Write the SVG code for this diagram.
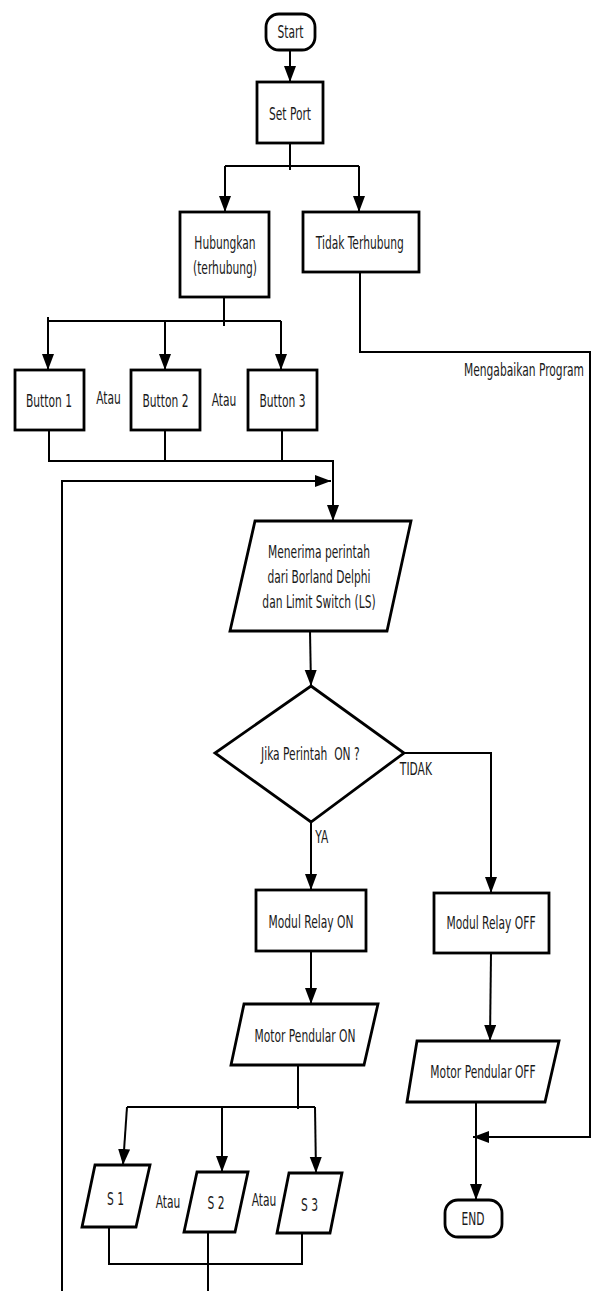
<svg xmlns="http://www.w3.org/2000/svg" width="593" height="1291" viewBox="0 0 593 1291">
<style>
.shape{fill:#fff;stroke:#000;stroke-width:2.8;stroke-linejoin:miter}
.ln{fill:none;stroke:#000;stroke-width:2}
.t{font-family:"DejaVu Sans Condensed","DejaVu Sans",sans-serif;font-size:17px;fill:#1a1a1a;text-anchor:middle;dominant-baseline:central;transform-box:fill-box;transform-origin:center;transform:scaleX(0.7);white-space:pre}
</style>
<defs>
<marker id="ah" markerUnits="userSpaceOnUse" markerWidth="17" markerHeight="13" refX="16" refY="6" orient="auto">
<path d="M0,0 L16,6 L0,12 z" fill="#000"/>
</marker>
</defs>
<rect width="593" height="1291" fill="#fff"/>
<g id="connectors">
<path class="ln" d="M290,50 V82" marker-end="url(#ah)"/>
<path class="ln" d="M290,143 V170 M225,166 H359"/>
<path class="ln" d="M225,166 V212" marker-end="url(#ah)"/>
<path class="ln" d="M359,166 V212" marker-end="url(#ah)"/>
<path class="ln" d="M360,272 V352 H590 V1137 H473" marker-end="url(#ah)"/>
<path class="ln" d="M224,297 V326 M48,317 V321 H281"/>
<path class="ln" d="M48,321 V370" marker-end="url(#ah)"/>
<path class="ln" d="M165,321 V370" marker-end="url(#ah)"/>
<path class="ln" d="M281,321 V370" marker-end="url(#ah)"/>
<path class="ln" d="M165,430 V461 M282,430 V461"/>
<path class="ln" d="M49,430 V461 H333 V521" marker-end="url(#ah)"/>
<path class="ln" d="M62,1291 V481 H331" marker-end="url(#ah)"/>
<path class="ln" d="M310,631 L311,686" marker-end="url(#ah)"/>
<path class="ln" d="M311,822 V890" marker-end="url(#ah)"/>
<path class="ln" d="M404,753 H491 V893" marker-end="url(#ah)"/>
<path class="ln" d="M311,951 V1004" marker-end="url(#ah)"/>
<path class="ln" d="M491,953 L490,1041" marker-end="url(#ah)"/>
<path class="ln" d="M298,1065 V1109 M127,1107 H315"/>
<path class="ln" d="M127,1107 L123,1165" marker-end="url(#ah)"/>
<path class="ln" d="M222,1107 V1172" marker-end="url(#ah)"/>
<path class="ln" d="M315,1107 L316,1173" marker-end="url(#ah)"/>
<path class="ln" d="M109,1227 V1264 H302 V1233 M208,1232 V1291"/>
<path class="ln" d="M476,1102 V1200" marker-end="url(#ah)"/>
</g>
<g id="start">
<rect class="shape" x="266" y="14" width="49" height="36" rx="13"/>
<text class="t" x="290.5" y="32">Start</text>
</g>
<g id="setport">
<rect class="shape" x="257" y="82" width="66" height="61"/>
<text class="t" x="290" y="114">Set Port</text>
</g>
<g id="hubungkan">
<rect class="shape" x="180" y="212" width="89" height="85"/>
<text class="t" x="225" y="243">Hubungkan</text>
<text class="t" x="225" y="268">(terhubung)</text>
</g>
<g id="tidakterhubung">
<rect class="shape" x="303" y="212" width="116" height="60"/>
<text class="t" x="360" y="243">Tidak Terhubung</text>
</g>
<g id="label-mengabaikan">
<text class="t" x="524" y="370">Mengabaikan Program</text>
</g>
<g id="button1">
<rect class="shape" x="15" y="370" width="69" height="60"/>
<text class="t" x="49" y="400.5">Button 1</text>
</g>
<g id="atau1"><text class="t" x="108.5" y="398">Atau</text></g>
<g id="button2">
<rect class="shape" x="131" y="370" width="69" height="60"/>
<text class="t" x="165.5" y="400.5">Button 2</text>
</g>
<g id="atau2"><text class="t" x="224" y="400">Atau</text></g>
<g id="button3">
<rect class="shape" x="248" y="370" width="69" height="60"/>
<text class="t" x="282.5" y="400.5">Button 3</text>
</g>
<g id="menerima">
<polygon class="shape" points="255,521 411,521 387,631 230,631"/>
<text class="t" x="319" y="552">Menerima perintah</text>
<text class="t" x="319" y="577">dari Borland Delphi</text>
<text class="t" x="319" y="602">dan Limit Switch (LS)</text>
</g>
<g id="decision">
<polygon class="shape" points="311,686 404,753 311,822 215,753"/>
<text class="t" x="310.5" y="754">Jika Perintah  ON ?</text>
</g>
<g id="label-tidak"><text class="t" x="416" y="769">TIDAK</text></g>
<g id="label-ya"><text class="t" x="322" y="837">YA</text></g>
<g id="relayon">
<rect class="shape" x="256" y="890" width="110" height="61"/>
<text class="t" x="311" y="922">Modul Relay ON</text>
</g>
<g id="relayoff">
<rect class="shape" x="434" y="893" width="115" height="60"/>
<text class="t" x="491" y="923">Modul Relay OFF</text>
</g>
<g id="motoron">
<polygon class="shape" points="244,1004 378,1004 364,1065 231,1065"/>
<text class="t" x="305" y="1036">Motor Pendular ON</text>
</g>
<g id="motoroff">
<polygon class="shape" points="417,1041 559,1041 545,1102 407,1102"/>
<text class="t" x="483" y="1072">Motor Pendular OFF</text>
</g>
<g id="s1">
<polygon class="shape" points="95,1165 150,1165 136,1227 82,1227"/>
<text class="t" x="115.5" y="1199">S 1</text>
</g>
<g id="atau3"><text class="t" x="168" y="1202">Atau</text></g>
<g id="s2">
<polygon class="shape" points="197,1172 248,1172 235,1232 184,1232"/>
<text class="t" x="216" y="1203">S 2</text>
</g>
<g id="atau4"><text class="t" x="264" y="1200">Atau</text></g>
<g id="s3">
<polygon class="shape" points="289,1173 342,1173 330,1233 277,1233"/>
<text class="t" x="309.5" y="1205">S 3</text>
</g>
<g id="end">
<rect class="shape" x="445" y="1200" width="57" height="37" rx="13"/>
<text class="t" x="473" y="1219">END</text>
</g>
</svg>
